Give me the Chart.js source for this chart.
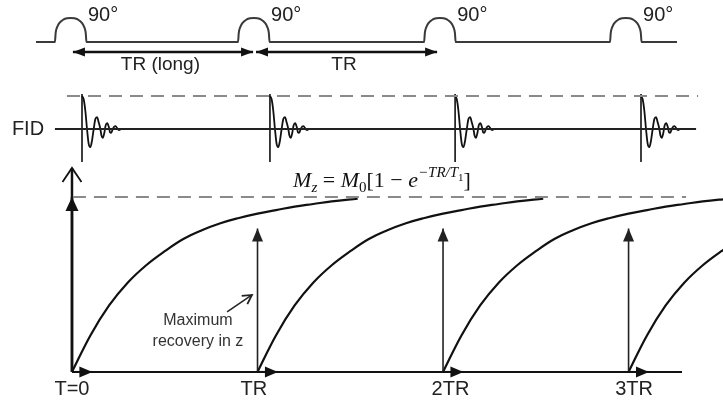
<!DOCTYPE html>
<html>
<head>
<meta charset="utf-8">
<script src="https://cdn.jsdelivr.net/npm/chart.js@4/dist/chart.umd.min.js"></script>
<style>
    html, body { margin: 0; padding: 0; background: #fff; }
    #wrap { width: 723px; height: 412px; }
</style>
</head>
<body>
<div id="wrap"><canvas id="grafico" width="723" height="412"></canvas></div>
<script>
// time in ms, TR = 1000
const trTimes = [0, 1000, 2000, 3000];
const tickLabels = ["T=0", "TR", "2TR", "3TR"];

// 90° pulses on the sequence line (relative height)
const pulseStarts = [-92, 895, 1898, 2900];
const pulseShapeT = [0, 4, 12, 25, 45, 65, 85, 105, 125, 145, 158, 166, 170];
const pulseShapeA = [0, 0.38, 0.62, 0.8, 0.93, 0.99, 1, 0.99, 0.93, 0.8, 0.62, 0.38, 0];
const pulseLabels = ["90°", "90°", "90°", "90°"];

// TR spans under the sequence
const spanStarts = [5, 992];
const spanEnds = [976, 1968];
const spanLabels = ["TR (long)", "TR"];

// FID after each pulse (relative amplitude)
const fidStarts = [54, 1067, 2065, 3067];
const fidShapeT = [0, 9, 18, 27, 36, 45, 54, 63, 72, 81, 90, 99, 105, 112, 121, 127, 136, 145, 151, 157, 166, 175, 181, 190, 199, 210];
const fidShapeA = [1, 0.9, 0.55, 0, -0.45, -0.55, -0.35, 0, 0.3, 0.36, 0.2, 0, -0.2, -0.27, -0.1, 0.1, 0.18, 0.05, -0.1, -0.12, 0, 0.08, 0.09, 0.02, -0.03, 0];

// Mz recovery after each pulse (fraction of M0)
const recoveryT = [0, 100, 200, 300, 400, 500, 600, 700, 800, 900, 1000, 1100, 1200, 1300, 1400, 1540];
const recoveryMz = [0, 0.21, 0.38, 0.51, 0.61, 0.69, 0.76, 0.81, 0.85, 0.88, 0.905, 0.925, 0.945, 0.96, 0.975, 0.99];

// height of the arrows drawn at TR, 2TR, 3TR
const trArrowMz = [0.82, 0.82, 0.82];
const mzMax = 1;

const headFilled = { type: "filled", len: 13, half: 5.5 };
const headSmall = { type: "filled", len: 12, half: 4.5 };
const headOpen = { type: "open", len: 14, half: 9.5 };

function linha(points, yAxisID, extra) {
    return Object.assign({
        data: points,
        yAxisID,
        showLine: true,
        pointRadius: 0,
        borderColor: "#111",
        borderWidth: 2,
        fill: false
    }, extra || {});
}

function montarSequencia() {
    const pts = [{ x: -194, y: 0 }];
    pulseStarts.forEach(inicio => {
        pulseShapeT.forEach((t, i) => pts.push({ x: inicio + t, y: pulseShapeA[i] }));
    });
    pts.push({ x: 3261, y: 0 });
    return pts;
}

function montarDatasets() {
    const ds = [];

    // sequence row
    ds.push(linha(montarSequencia(), "ySeq", { borderColor: "#3a3a3a", cubicInterpolationMode: "monotone" }));
    spanStarts.forEach((s, i) => {
        ds.push(linha([{ x: s, y: -0.417 }, { x: spanEnds[i], y: -0.417 }], "ySeq", {
            borderWidth: 2.5, arrowStart: headSmall, arrowEnd: headSmall
        }));
    });

    // FID row
    ds.push(linha([{ x: -92, y: 0 }, { x: 3364, y: 0 }], "yFid", { borderColor: "#222" }));
    ds.push(linha([{ x: -27, y: 1 }, { x: 3375, y: 1 }], "yFid", { borderColor: "#8a8a8a", borderDash: [13, 8] }));
    fidStarts.forEach(inicio => {
        ds.push(linha([{ x: inicio, y: 1.06 }, { x: inicio, y: -1 }], "yFid", { borderWidth: 1.6 }));
        ds.push(linha(fidShapeT.map((t, i) => ({ x: inicio + t, y: fidShapeA[i] })), "yFid", {
            borderWidth: 1.8, cubicInterpolationMode: "monotone"
        }));
    });

    // magnetization panel
    ds.push(linha([{ x: 5, y: mzMax }, { x: 3310, y: mzMax }], "y", { borderColor: "#8a8a8a", borderDash: [13, 8] }));
    ds.push(linha([{ x: 0, y: 0 }, { x: 0, y: 1.166 }], "y", { borderWidth: 2.5, arrowEnd: headOpen }));
    ds.push(linha([{ x: 0, y: 0 }, { x: 0, y: mzMax }], "y", { borderWidth: 2.5, arrowEnd: { type: "filled", len: 14, half: 6.5 } }));
    ds.push(linha([{ x: 0, y: 0 }, { x: 3288, y: 0 }], "y", {}));
    trTimes.forEach(t => {
        ds.push(linha([{ x: t, y: 0 }, { x: t + 110, y: 0 }], "y", { arrowEnd: headFilled }));
    });
    trTimes.slice(1).forEach((t, i) => {
        ds.push(linha([{ x: t, y: 0 }, { x: t, y: trArrowMz[i] }], "y", { borderWidth: 1.6, borderColor: "#222", arrowEnd: headFilled }));
    });
    trTimes.forEach(t => {
        ds.push(linha(recoveryT.map((r, i) => ({ x: t + r, y: recoveryMz[i] })), "y", {
            borderWidth: 2.2, tension: 0.4
        }));
    });
    ds.push(linha([{ x: 836, y: 0.343 }, { x: 970, y: 0.44 }], "y", {
        borderWidth: 1.5, borderColor: "#222", arrowEnd: { type: "open", len: 9, half: 5 }
    }));

    return ds;
}

function desenharPonta(ctx, de, ate, ponta, cor) {
    const ang = Math.atan2(ate.y - de.y, ate.x - de.x);
    const cos = Math.cos(ang), sin = Math.sin(ang);
    const bx = ate.x - ponta.len * cos, by = ate.y - ponta.len * sin;
    const p1 = { x: bx - ponta.half * sin, y: by + ponta.half * cos };
    const p2 = { x: bx + ponta.half * sin, y: by - ponta.half * cos };
    ctx.save();
    ctx.fillStyle = cor;
    ctx.strokeStyle = cor;
    ctx.lineWidth = 1.8;
    ctx.beginPath();
    if (ponta.type === "filled") {
        ctx.moveTo(ate.x, ate.y);
        ctx.lineTo(p1.x, p1.y);
        ctx.lineTo(p2.x, p2.y);
        ctx.closePath();
        ctx.fill();
    } else {
        ctx.moveTo(p1.x, p1.y);
        ctx.lineTo(ate.x, ate.y);
        ctx.lineTo(p2.x, p2.y);
        ctx.stroke();
    }
    ctx.restore();
}

const setas = {
    id: "setas",
    afterDatasetsDraw(chart) {
        const ctx = chart.ctx;
        chart.data.datasets.forEach((ds, i) => {
            const pts = chart.getDatasetMeta(i).data;
            if (ds.arrowEnd) desenharPonta(ctx, pts[pts.length - 2], pts[pts.length - 1], ds.arrowEnd, ds.borderColor);
            if (ds.arrowStart) desenharPonta(ctx, pts[1], pts[0], ds.arrowStart, ds.borderColor);
        });
    }
};

function desenharFormula(ctx, cx, baseY) {
    const serif = "'Liberation Serif', 'DejaVu Serif', serif";
    const partes = [
        { t: "M", f: "italic 22px " + serif, dy: 0 },
        { t: "z", f: "italic 15px " + serif, dy: 5 },
        { t: " = ", f: "22px " + serif, dy: 0 },
        { t: "M", f: "italic 22px " + serif, dy: 0 },
        { t: "0", f: "15px " + serif, dy: 5 },
        { t: "[1 − ", f: "22px " + serif, dy: 0 },
        { t: "e", f: "italic 22px " + serif, dy: 0 },
        { t: "−TR/T", f: "italic 15px " + serif, dy: -10 },
        { t: "1", f: "11px " + serif, dy: -6 },
        { t: "]", f: "22px " + serif, dy: 0 }
    ];
    let total = 0;
    partes.forEach(p => { ctx.font = p.f; p.w = ctx.measureText(p.t).width; total += p.w; });
    let x = cx - total / 2;
    ctx.textAlign = "left";
    ctx.textBaseline = "alphabetic";
    partes.forEach(p => {
        ctx.font = p.f;
        ctx.fillText(p.t, x, baseY + p.dy);
        x += p.w;
    });
}

const textos = {
    id: "textos",
    afterDraw(chart) {
        const ctx = chart.ctx;
        const sx = v => chart.scales.x.getPixelForValue(v);
        const sy = (v, eixo) => chart.scales[eixo].getPixelForValue(v);
        const sans = "'Liberation Sans', Arial, sans-serif";
        ctx.save();
        ctx.fillStyle = "#222";
        ctx.textBaseline = "middle";

        ctx.font = "20px " + sans;
        ctx.textAlign = "left";
        pulseStarts.forEach((p, i) => ctx.fillText(pulseLabels[i], sx(p + 178), sy(1.125, "ySeq")));

        ctx.font = "19px " + sans;
        ctx.textAlign = "center";
        spanLabels.forEach((lbl, i) => ctx.fillText(lbl, sx((spanStarts[i] + spanEnds[i]) / 2 - 14), sy(-0.958, "ySeq")));

        ctx.font = "20px " + sans;
        ctx.fillText("FID", sx(-237), sy(0, "yFid"));

        const ajuste = [0, -20, 40, 30];
        tickLabels.forEach((lbl, i) => ctx.fillText(lbl, sx(trTimes[i] + ajuste[i]), sy(-0.103, "y")));

        ctx.font = "16px " + sans;
        ctx.fillStyle = "#333";
        ctx.fillText("Maximum", sx(679), sy(0.291, "y"));
        ctx.fillText("recovery in z", sx(679), sy(0.171, "y"));

        ctx.fillStyle = "#111";
        desenharFormula(ctx, sx(1671), sy(1.057, "y"));
        ctx.restore();
    }
};

const fundo = {
    id: "fundo",
    beforeDraw(chart) {
        const ctx = chart.ctx;
        ctx.save();
        ctx.fillStyle = "#fff";
        ctx.fillRect(0, 0, chart.width, chart.height);
        ctx.restore();
    }
};

new Chart(document.getElementById("grafico"), {
    type: "scatter",
    data: { datasets: montarDatasets() },
    options: {
        responsive: false,
        animation: false,
        devicePixelRatio: 1,
        layout: { padding: 0 },
        plugins: { legend: { display: false }, tooltip: { enabled: false } },
        scales: {
            x: { type: "linear", min: -388, max: 3509, display: false },
            y: { type: "linear", min: -0.229, max: 2.126, display: false },
            yFid: { type: "linear", min: -8.576, max: 3.909, display: false },
            ySeq: { type: "linear", min: -15.42, max: 1.75, display: false }
        }
    },
    plugins: [fundo, setas, textos]
});
</script>
</body>
</html>
